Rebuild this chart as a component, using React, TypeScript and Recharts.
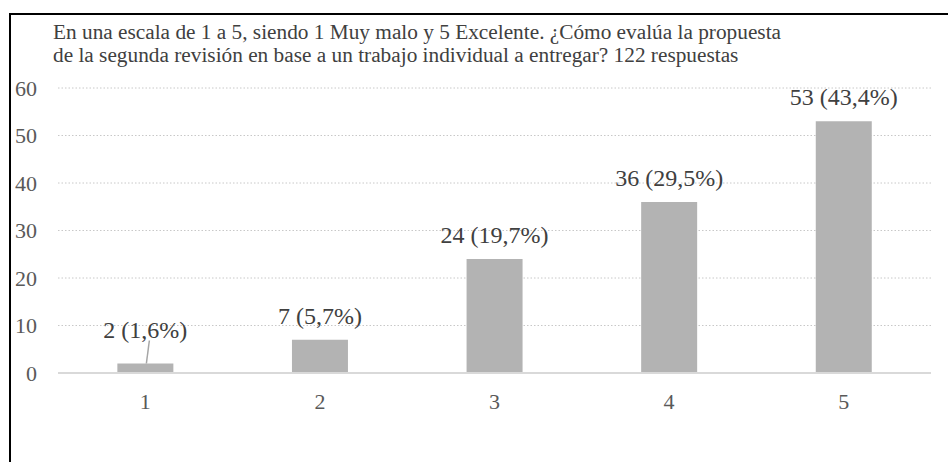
import React from 'react'
import { BarChart, Bar, XAxis, YAxis, CartesianGrid, LabelList, ReferenceLine } from 'recharts'

const categories = ['1', '2', '3', '4', '5']
const counts = [2, 7, 24, 36, 53]
const percents = ['1,6%', '5,7%', '19,7%', '29,5%', '43,4%']
const yTicks = [0, 10, 20, 30, 40, 50, 60]
const titleLines = [
  'En una escala de 1 a 5, siendo 1 Muy malo y 5 Excelente. ¿Cómo evalúa la propuesta',
  'de la segunda revisión en base a un trabajo individual a entregar? 122 respuestas',
]

const data = categories.map((c, i) => ({ name: c, value: counts[i], label: `${counts[i]} (${percents[i]})` }))

const FONT = 'Liberation Serif'

// label above each bar; the first one sits higher with a small leader line
const BarLabel = (props: any) => {
  const { x, y, width, value, index } = props
  const cx = x + width / 2
  if (index === 0) {
    return (
      <g>
        <line x1={cx + 4} y1={y - 23} x2={cx + 1} y2={y} stroke="#a6a6a6" strokeWidth={1.5} />
        <text x={cx} y={y - 26} textAnchor="middle" style={{ fontFamily: FONT }} fontSize={24} fill="#404040">
          {value}
        </text>
      </g>
    )
  }
  return (
    <text x={cx} y={y - 16} textAnchor="middle" style={{ fontFamily: FONT }} fontSize={24} fill="#404040">
      {value}
    </text>
  )
}

export default function App() {
  return (
    <div style={{ position: 'absolute', left: 0, top: 0, width: 948, height: 462, overflow: 'hidden', background: '#fff', fontFamily: FONT }}>
      <div
        style={{
          position: 'absolute',
          left: 9,
          top: 13,
          width: 1000,
          height: 1000,
          border: '2px solid #000',
          boxSizing: 'border-box',
        }}
      />
      <div style={{ position: 'absolute', left: 0, top: 0 }}>
        <BarChart
          width={948}
          height={462}
          data={data}
          margin={{ top: 88, right: 17, bottom: 59, left: 0 }}
          barCategoryGap="34%"
          style={{ fontFamily: FONT }}
        >
          <text style={{ fontFamily: FONT }} fontSize={21.3} fill="#404040">
            {titleLines.map((t, i) => (
              <tspan key={i} x={53} y={39 + i * 23}>
                {t}
              </tspan>
            ))}
          </text>
          <CartesianGrid vertical={false} stroke="#c8c8c8" strokeDasharray="1.5 2" />
          <XAxis
            dataKey="name"
            axisLine={false}
            tickLine={false}
            tickSize={0}
            tickMargin={20}
            height={30}
            tick={{ fontFamily: FONT, fontSize: 22, fill: '#595959' }}
          />
          <YAxis
            width={58}
            domain={[0, 60]}
            ticks={yTicks}
            axisLine={false}
            tickLine={false}
            tickSize={0}
            tickMargin={21}
            tick={{ fontFamily: FONT, fontSize: 22, fill: '#595959' }}
          />
          <ReferenceLine y={0} stroke="#d9d9d9" strokeWidth={2} />
          <Bar dataKey="value" fill="#b3b3b3" isAnimationActive={false}>
            <LabelList dataKey="label" content={BarLabel} />
          </Bar>
        </BarChart>
      </div>
    </div>
  )
}
